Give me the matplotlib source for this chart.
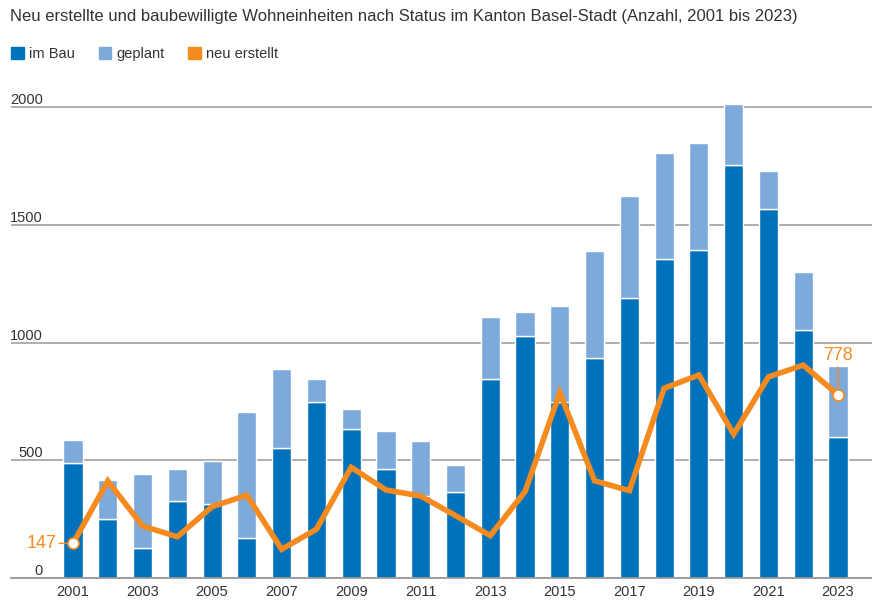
import matplotlib.pyplot as plt
from matplotlib.patches import Patch

plt.rcParams['font.family'] = ['Liberation Sans', 'DejaVu Sans']

# data
jahre = list(range(2001, 2024))
im_bau = [488, 250, 129, 327, 314, 169, 553, 749, 634, 464, 350, 364,
          843, 1029, 748, 933, 1188, 1354, 1392, 1756, 1567, 1053, 600]
gesamt = [586, 416, 442, 463, 497, 703, 887, 845, 718, 624, 582, 480,
          1109, 1130, 1155, 1389, 1623, 1805, 1848, 2014, 1728, 1299, 900]
geplant = [g - b for g, b in zip(gesamt, im_bau)]
neu_erstellt = [147, 412, 221, 175, 303, 352, 122, 207, 470, 374, 348, 265,
                180, 367, 787, 413, 371, 806, 862, 611, 854, 904, 778]
yticks = [0, 500, 1000, 1500, 2000]
xticks = list(range(2001, 2024, 2))

blau = '#0072bc'
hellblau = '#7eaadb'
orange = '#f58a1f'
grau = '#999999'
text_farbe = '#333333'

fig = plt.figure(figsize=(8.72, 6.15), dpi=100)
ax = fig.add_axes([11/872, 37/615, 861/872, (578-83.5)/615])

ax.bar(jahre, im_bau, width=0.55, color=blau, edgecolor='white', linewidth=1, zorder=2)
ax.bar(jahre, geplant, bottom=im_bau, width=0.55, color=hellblau, edgecolor='white', linewidth=1, zorder=2)
ax.plot(jahre, neu_erstellt, color=orange, linewidth=4, solid_joinstyle='miter', zorder=3)

# endpunkte
for i in [0, -1]:
    ax.plot(jahre[i], neu_erstellt[i], 'o', markersize=8, markerfacecolor='white',
            markeredgecolor=orange, markeredgewidth=1.2, zorder=4)
ax.annotate(str(neu_erstellt[0]), (jahre[0], neu_erstellt[0]), xytext=(-12, 0),
            textcoords='offset points', ha='right', va='center', color=orange, fontsize=13,
            arrowprops=dict(arrowstyle='-', color=orange, lw=1, shrinkA=0, shrinkB=4))
ax.annotate(str(neu_erstellt[-1]), (jahre[-1], neu_erstellt[-1]), xytext=(0, 22),
            textcoords='offset points', ha='center', va='bottom', color=orange, fontsize=13,
            arrowprops=dict(arrowstyle='-', color=orange, lw=1, shrinkA=0, shrinkB=4))

ax.set_xlim(2001 - 62/34.77, 2023 + 34/34.77)
ax.set_ylim(0, 2100)

ax.set_yticks(yticks)
ax.set_yticklabels([str(v) for v in yticks])
ax.set_xticks(xticks)
ax.set_xticklabels([str(v) for v in xticks])
ax.tick_params(axis='y', length=0, pad=-23, labelsize=10.5, labelcolor=text_farbe)
ax.tick_params(axis='x', length=0, pad=5, labelsize=10.5, labelcolor=text_farbe)
for lab in ax.get_yticklabels():
    lab.set_verticalalignment('bottom')
    lab.set_horizontalalignment('right')

ax.grid(axis='y', color=grau, linewidth=1.1, zorder=1)
ax.set_axisbelow(True)
for s in ['top', 'right', 'left']:
    ax.spines[s].set_visible(False)
ax.spines['bottom'].set_color(grau)
ax.spines['bottom'].set_linewidth(1.3)

fig.text(10/872, 1 - 17/615, 'Neu erstellte und baubewilligte Wohneinheiten nach Status im Kanton Basel-Stadt (Anzahl, 2001 bis 2023)',
         ha='left', va='center', fontsize=12, color=text_farbe)

handles = [Patch(color=blau, label='im Bau'), Patch(color=hellblau, label='geplant'),
           Patch(color=orange, label='neu erstellt')]
fig.legend(handles=handles, loc='center left', bbox_to_anchor=(-2/872, 1 - 54/615), ncol=3,
           frameon=False, fontsize=10.5, handlelength=0.85, handleheight=0.85,
           handletextpad=0.35, columnspacing=1.65, labelcolor=text_farbe)

fig.savefig('out.png', dpi=100)
